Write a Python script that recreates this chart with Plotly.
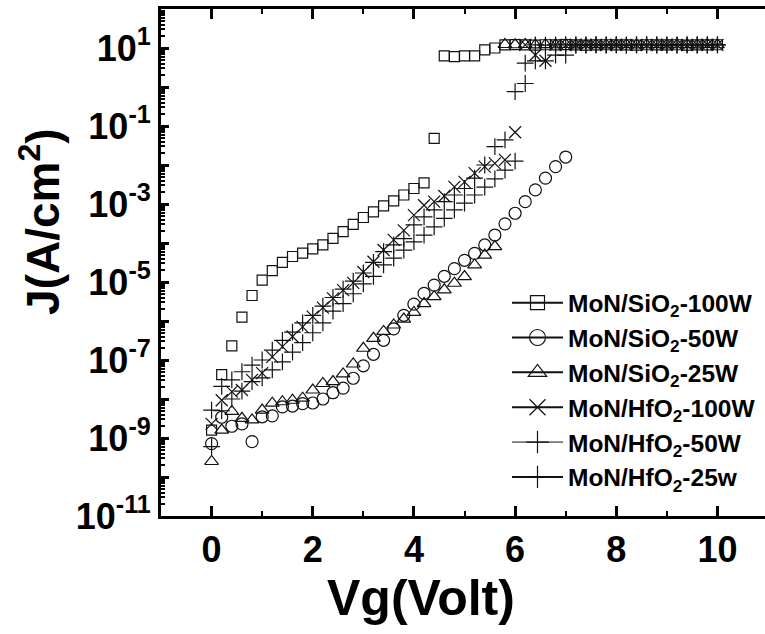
import plotly.graph_objects as go

# Gate voltage sweep (V)
V_FULL = [0.0, 0.2, 0.4, 0.6, 0.8, 1.0, 1.2, 1.4, 1.6, 1.8, 2.0, 2.2, 2.4, 2.6, 2.8,
          3.0, 3.2, 3.4, 3.6, 3.8, 4.0, 4.2, 4.4, 4.6, 4.8, 5.0, 5.2, 5.4, 5.6, 5.8,
          6.0, 6.2, 6.4, 6.6, 6.8, 7.0, 7.2, 7.4, 7.6, 7.8, 8.0, 8.2, 8.4, 8.6, 8.8,
          9.0, 9.2, 9.4, 9.6, 9.8, 10.0]
V_TO_7 = V_FULL[:36]

# Leakage current density J (A/cm^2)
J_SIO2_100W = [1.6e-9, 4.2e-8, 2.3e-7, 1.26e-6, 4.5e-6, 1.12e-5, 1.95e-5, 3.2e-5, 4.5e-5, 5.5e-5,
               7.1e-5, 8.9e-5, 1.32e-4, 1.95e-4, 3.0e-4, 4.5e-4, 6.3e-4, 8.9e-4, 1.2e-3, 1.7e-3,
               2.5e-3, 3.5e-3, 4.8e-2, 6.3, 6.0, 6.3, 6.3, 8.9, 10.0, 12.0,
               12.2, 12.0, 11.9, 12.1, 12.0, 12.2, 12.0, 11.9, 12.0, 12.1,
               12.0, 12.0, 11.9, 12.1, 12.0, 12.0, 12.1, 11.9, 12.0, 12.0, 12.1]

J_SIO2_50W = [7.2e-10, 3.4e-9, 2.0e-9, 2.3e-9, 8.1e-10, 3.5e-9, 3.7e-9, 6.3e-9, 6.6e-9, 7.6e-9,
              7.9e-9, 1.0e-8, 1.45e-8, 1.9e-8, 3.4e-8, 7.1e-8, 1.4e-7, 3.2e-7, 6.3e-7, 1.4e-6,
              2.7e-6, 5.1e-6, 8.3e-6, 1.4e-5, 2.2e-5, 3.6e-5, 5.4e-5, 8.9e-5, 1.6e-4, 3.1e-4,
              5.8e-4, 1.15e-3, 2.3e-3, 4.6e-3, 9.1e-3, 1.6e-2]

J_SIO2_25W = [2.5e-10, 1.6e-9, 4.8e-9, 3.2e-9, 2.9e-9, 5.2e-9, 7.8e-9, 8.5e-9, 9.3e-9, 1.05e-8,
              1.7e-8, 2.5e-8, 2.8e-8, 4.4e-8, 7.9e-8, 2.0e-7, 3.6e-7, 5.4e-7, 7.9e-7, 1.12e-6,
              1.66e-6, 2.8e-6, 4.2e-6, 6.3e-6, 9.3e-6, 1.38e-5, 2.75e-5, 4.9e-5, 8.1e-5, 12.3,
              12.1, 12.3, 12.0, 12.2, 12.1, 12.3, 12.0, 12.1, 12.2, 12.0,
              12.1, 12.2, 12.0, 12.1, 12.2, 12.0, 12.1, 12.2, 12.0, 12.3, 12.1]

J_HFO2_100W = [2.3e-9, 9.3e-9, 1.55e-8, 1.7e-8, 3.1e-8, 4.6e-8, 1.2e-7, 2.2e-7, 4.0e-7, 7.1e-7,
               1.29e-6, 2.2e-6, 3.8e-6, 6.2e-6, 9.5e-6, 1.8e-5, 3.3e-5, 6.6e-5, 1.2e-4, 2.1e-4,
               5.2e-4, 9.3e-4, 1.15e-3, 1.6e-3, 2.75e-3, 3.7e-3, 6.2e-3, 9.1e-3, 1.1e-2, 1.35e-2,
               6.9e-2, 12.0, 6.6, 4.7, 12.0, 11.9, 12.1, 12.0, 12.0, 11.9,
               12.1, 12.0, 12.0, 11.9, 12.0, 12.1, 12.0, 11.9, 12.0, 12.1, 12.0]

J_HFO2_50W = [5.2e-9, 2.1e-8, 3.1e-8, 5.0e-8, 7.4e-8, 1.0e-7, 1.8e-7, 3.2e-7, 5.2e-7, 8.9e-7,
              1.4e-6, 2.4e-6, 4.0e-6, 6.6e-6, 1.05e-5, 1.7e-5, 3.2e-5, 6.0e-5, 8.9e-5, 1.3e-4,
              2.9e-4, 4.7e-4, 7.1e-4, 1.15e-3, 1.7e-3, 2.5e-3, 4.6e-3, 1.0e-2, 2.95e-2, 4.4e-2,
              0.76, 4.1, 4.7, 4.7, 6.6, 6.6, 11.9, 12.0, 12.1, 11.9,
              12.0, 11.8, 12.0, 12.1, 11.9, 12.0, 11.9, 12.0, 12.1, 11.9, 12.0]

J_HFO2_25W = [6.0e-10, 5.0e-9, 1.0e-8, 1.6e-8, 2.8e-8, 3.5e-8, 5.6e-8, 8.9e-8, 1.6e-7, 2.8e-7,
              5.0e-7, 8.9e-7, 1.8e-6, 2.8e-6, 5.0e-6, 8.9e-6, 1.4e-5, 2.75e-5, 4.1e-5, 6.6e-5,
              1.07e-4, 1.6e-4, 2.6e-4, 4.3e-4, 7.1e-4, 1.05e-3, 1.7e-3, 2.7e-3, 4.4e-3, 7.4e-3,
              1.26e-2, 1.23, 12.0, 11.9, 12.0, 12.1, 12.0, 11.9, 12.0, 12.0,
              12.1, 11.9, 12.0, 12.0, 12.1, 11.9, 12.0, 12.0, 11.9, 12.1, 12.0]

# Legend labels and axis tick labels
NAMES = ["MoN/SiO<sub>2</sub>-100W", "MoN/SiO<sub>2</sub>-50W", "MoN/SiO<sub>2</sub>-25W",
         "MoN/HfO<sub>2</sub>-100W", "MoN/HfO<sub>2</sub>-50W", "MoN/HfO<sub>2</sub>-25w"]
X_TICKS = [0, 2, 4, 6, 8, 10]
Y_DECADES = list(range(-11, 3))

series = [
    (V_FULL, J_SIO2_100W, "square-open", 10, 2),
    (V_TO_7, J_SIO2_50W, "circle-open", 12, 2),
    (V_FULL, J_SIO2_25W, "triangle-up-open", 12, 2),
    (V_FULL, J_HFO2_100W, "x-thin-open", 12, 2),
    (V_FULL, J_HFO2_50W, "cross-thin-open", 12, 1),
    (V_FULL, J_HFO2_25W, "cross-thin-open", 12, 2),
]

FONT = "Liberation Sans, Arial, sans-serif"
INK = "#111111"

fig = go.Figure()

for (vx, jy, sym, size, lw), name in zip(series, NAMES):
    fig.add_trace(go.Scatter(
        x=vx, y=jy, mode="markers", showlegend=False, cliponaxis=False,
        marker=dict(symbol=sym, size=size, color=INK, line=dict(color=INK, width=1.2)),
    ))

# Legend entries: line + marker samples
for i, ((vx, jy, sym, size, lw), name) in enumerate(zip(series, NAMES)):
    fig.add_trace(go.Scatter(
        x=[None], y=[None], mode="lines+markers", name=name, legendgroup=str(i),
        line=dict(color=INK, width=lw),
        marker=dict(symbol=sym, size=size + 4, color=INK,
                    line=dict(color=INK, width=1.2)),
    ))

tick_text = ["10<sup>%d</sup>" % k if k % 2 else "" for k in Y_DECADES]

fig.update_layout(
    width=765, height=634,
    margin=dict(l=161, r=0, t=9, b=118),
    paper_bgcolor="white", plot_bgcolor="white",
    font=dict(family=FONT, color="black", weight="bold"),
    showlegend=True,
    legend=dict(
        x=(507 - 161) / 604, y=0.465, xanchor="left", yanchor="top",
        bgcolor="rgba(0,0,0,0)", font=dict(size=24.5, family=FONT, weight="bold"),
        tracegroupgap=0, itemwidth=51,
    ),
    xaxis=dict(
        range=[-1, 10.94], showgrid=False, zeroline=False,
        showline=True, linecolor="black", linewidth=3, mirror="ticks",
        tickvals=X_TICKS, ticks="inside", ticklen=10, tickwidth=3, tickcolor="black",
        tickfont=dict(size=36, family=FONT, weight="bold"),
        minor=dict(dtick=1, tick0=1, ticks="inside", ticklen=5, tickwidth=2, tickcolor="black"),
    ),
    yaxis=dict(
        type="log", range=[-11, 2], showgrid=False, zeroline=False,
        showline=True, linecolor="black", linewidth=3, mirror=False,
        tickvals=[10.0 ** k for k in Y_DECADES], ticktext=tick_text,
        ticks="inside", ticklen=8, tickwidth=3, tickcolor="black",
        tickfont=dict(size=36, family=FONT, weight="bold"),
        minor=dict(dtick="D1", ticks="inside", ticklen=4, tickwidth=2, tickcolor="black"),
    ),
    annotations=[
        dict(text="Vg(Volt)", xref="paper", yref="paper", x=(421 - 161) / 604, y=-0.162,
             xanchor="center", yanchor="middle", showarrow=False,
             font=dict(size=50, family=FONT, weight="bold")),
        dict(text="J(A/cm<sup>2</sup>)", xref="paper", yref="paper", x=(40 - 161) / 604,
             y=0.58, xanchor="center", yanchor="middle", textangle=-90, showarrow=False,
             font=dict(size=46, family=FONT, weight="bold")),
    ],
)

fig.write_html("out.html")
